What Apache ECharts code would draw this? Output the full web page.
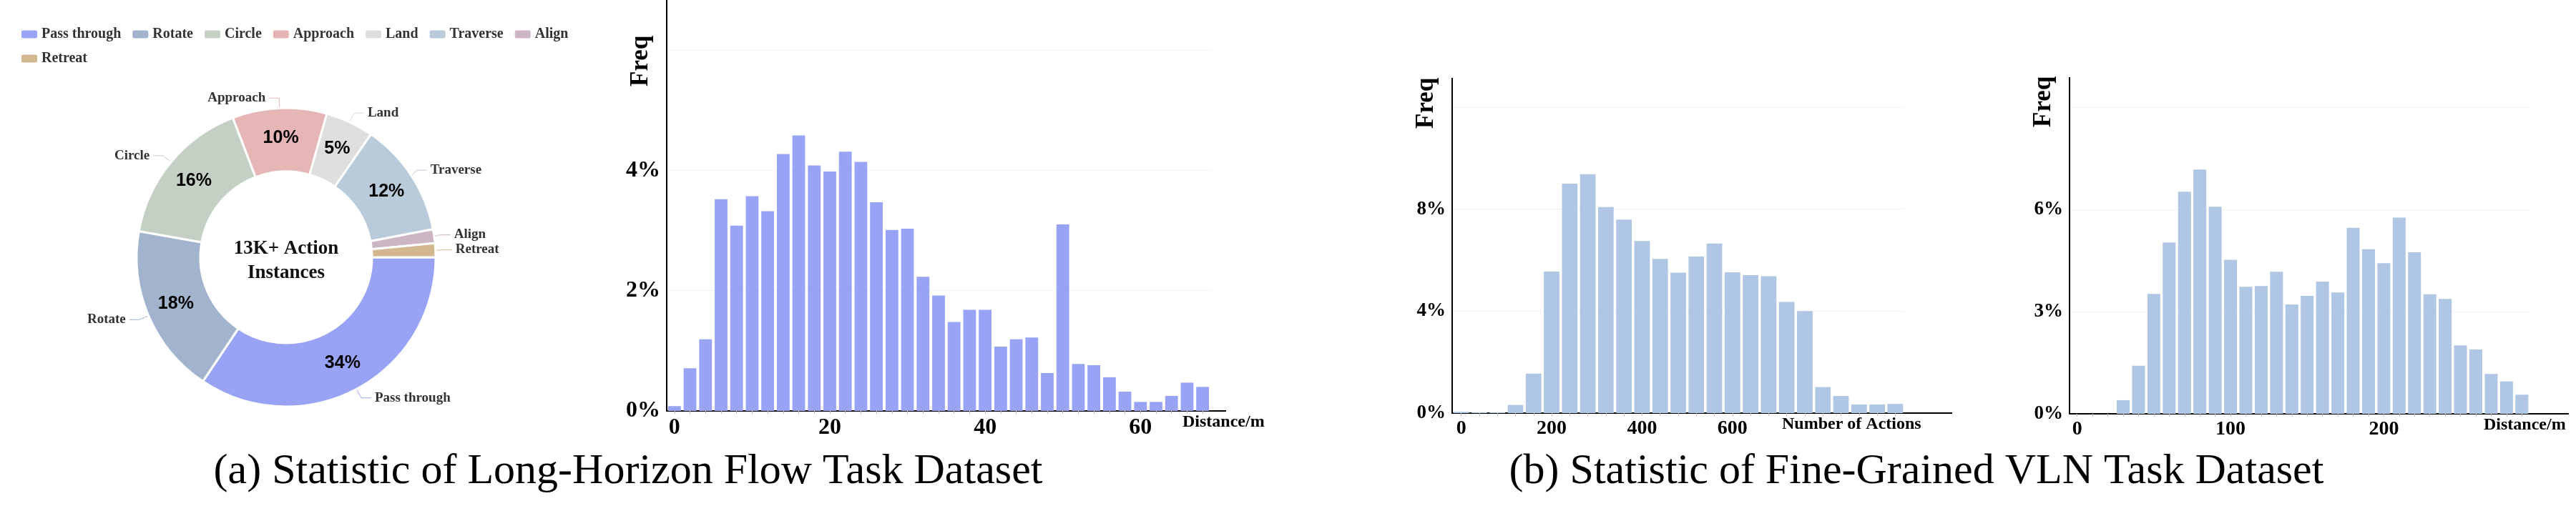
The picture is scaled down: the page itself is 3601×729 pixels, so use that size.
<!DOCTYPE html>
<html>
<head>
<meta charset="utf-8">
<script src="https://cdn.jsdelivr.net/npm/echarts@6/dist/echarts.min.js"></script>
<style>
html,body{margin:0;padding:0;background:#fff;}
#c{width:3601px;height:729px;}
</style>
</head>
<body>
<div id="c"></div>
<script>
// ---------------- data ----------------
const pieNames  = ['Pass through','Rotate','Circle','Approach','Land','Traverse','Align','Retreat'];
const pieValues = [34.4, 18.4, 16.4, 10.2, 5.2, 12.4, 1.5, 1.5];
const pieColors = ['#99A3F6','#A2B4CD','#C5D0C5','#E6B5B6','#DEDEDE','#B9CBDA','#CCB6C4','#D3B78F'];
const centerText = '13K+ Action\nInstances';

const hist1Cats = ['0','2','4','6','8','10','12','14','16','18','20','22','24','26','28','30','32','34',
                   '36','38','40','42','44','46','48','50','52','54','56','58','60','62','64','66','68'];
const hist1Vals = [0.08,0.71,1.19,3.52,3.08,3.57,3.32,4.27,4.58,4.08,3.98,4.31,4.14,3.47,3.01,3.03,2.23,1.92,
                   1.48,1.68,1.68,1.07,1.19,1.22,0.63,3.10,0.78,0.76,0.56,0.32,0.15,0.15,0.25,0.47,0.40];

const hist2Cats = ['0','40','80','120','160','200','240','280','320','360','400','440','480','520','560',
                   '600','640','680','720','760','800','840','880','920','960'];
const hist2Vals = [0.05,0.03,0.03,0.32,1.55,5.55,9.00,9.37,8.08,7.59,6.75,6.05,5.51,6.14,6.65,
                   5.52,5.41,5.37,4.36,4.00,1.02,0.67,0.34,0.34,0.36];

const hist3Cats = ['0','10','20','30','40','50','60','70','80','90','100','110','120','130','140',
                   '150','160','170','180','190','200','210','220','230','240','250','260','270','280','290'];
const hist3Vals = [0,0,0,0.40,1.41,3.52,5.03,6.52,7.17,6.08,4.52,3.73,3.75,4.17,3.21,
                   3.46,3.88,3.56,5.46,4.83,4.42,5.76,4.74,3.51,3.37,2.01,1.89,1.17,0.95,0.56];

const yName = 'Freq';
const xName1 = 'Distance/m';
const xName2 = 'Number of Actions';
const xName3 = 'Distance/m';
const captionA = '(a) Statistic of Long-Horizon Flow Task Dataset';
const captionB = '(b) Statistic of Fine-Grained VLN Task Dataset';

// ---------------- styles ----------------
const SERIF = "'Liberation Serif','Times New Roman',serif";
const SANS = "'Liberation Sans',Arial,sans-serif";

function xAxisCfg(grid, cats, showIdx, name, nameGap, ext, fs) {
  return {
    type: 'category', gridIndex: grid, data: cats, boundaryGap: true,
    axisLine: {show: true, lineStyle: {color: '#000', width: 2},
      symbol: ['none', 'rect'], symbolSize: [2, ext], symbolOffset: [0, ext / 2]},
    axisTick: {show: true, alignWithLabel: true, interval: 0, length: 4, lineStyle: {color: '#bbb'}},
    axisLabel: {interval: showIdx, margin: 8, fontFamily: SERIF, fontWeight: 'bold', fontSize: fs, color: '#000'},
    splitLine: {show: false},
    name: name, nameLocation: 'end', nameGap: nameGap, nameMoveOverlap: false,
    nameTextStyle: {fontFamily: SERIF, fontWeight: 'bold', fontSize: 24, color: '#000',
      align: 'left', verticalAlign: 'top', padding: [4, 0, 0, 0]}
  };
}
function yAxisCfg(grid, max, interval, nameGap, ext, fs) {
  return {
    type: 'value', gridIndex: grid, min: 0, max: max, interval: interval,
    axisLine: {show: true, lineStyle: {color: '#000', width: 2},
      symbol: ['none', 'rect'], symbolSize: [2, ext], symbolOffset: [0, ext / 2]},
    axisTick: {show: false},
    splitLine: {show: true, lineStyle: {color: '#f2f2f2', width: 1}},
    axisLabel: {formatter: v => v + '%', showMaxLabel: false, margin: 9,
      fontFamily: SERIF, fontWeight: 'bold', fontSize: fs, color: '#000'},
    name: yName, nameLocation: 'end', nameRotate: 90, nameGap: nameGap, nameMoveOverlap: false,
    nameTextStyle: {fontFamily: SERIF, fontWeight: 'bold', fontSize: 35, color: '#000',
      align: 'left', verticalAlign: 'bottom', padding: [0, 0, 19, 0]}
  };
}

const chart = echarts.init(document.getElementById('c'), null, {renderer: 'canvas'});
const option = {
  backgroundColor: '#fff',
  animation: false,
  title: [
    {text: centerText, left: 400, top: 331, textAlign: 'center', padding: 0,
     textStyle: {fontFamily: SERIF, fontWeight: 'bold', fontSize: 27, lineHeight: 34, color: '#111'}},
    {text: captionA, left: 878, top: 629, textAlign: 'center', padding: 0,
     textStyle: {fontFamily: SERIF, fontWeight: 'normal', fontSize: 60, lineHeight: 62, color: '#000'}},
    {text: captionB, left: 2679, top: 629, textAlign: 'center', padding: 0,
     textStyle: {fontFamily: SERIF, fontWeight: 'normal', fontSize: 60, lineHeight: 62, color: '#000'}}
  ],
  legend: {
    data: pieNames, left: 28, top: 38, width: 780, padding: 0,
    itemWidth: 24, itemHeight: 13, itemGap: 14, icon: 'roundRect',
    textStyle: {fontFamily: SERIF, fontWeight: 'bold', fontSize: 20, lineHeight: 15, color: '#333'}
  },
  grid: [
    {left: 932, top: 70, width: 760, height: 505, outerBoundsMode: 'none'},
    {left: 2030, top: 150, width: 632, height: 428, outerBoundsMode: 'none'},
    {left: 2893, top: 150, width: 643, height: 429, outerBoundsMode: 'none'}
  ],
  xAxis: [
    xAxisCfg(0, hist1Cats, i => i % 10 === 0, xName1, -39, 22, 32),
    xAxisCfg(1, hist2Cats, i => i % 5 === 0 && i <= 15, xName2, -171, 67, 28),
    xAxisCfg(2, hist3Cats, i => i % 10 === 0, xName3, -64, 55, 28)
  ],
  yAxis: [
    yAxisCfg(0, 6, 2, -51, 70, 32),
    yAxisCfg(1, 12, 4, -30, 41, 27),
    yAxisCfg(2, 9, 3, -28, 42, 27)
  ],
  series: [
    {
      type: 'pie', center: [400, 360], radius: [120, 209], startAngle: 0, clockwise: true,
      data: pieNames.map((n, i) => ({name: n, value: pieValues[i], itemStyle: {color: pieColors[i]}})),
      itemStyle: {borderColor: '#fff', borderWidth: 3},
      label: {show: true, position: 'outside', formatter: '{b}', fontFamily: SERIF, fontWeight: 'bold',
        fontSize: 19, color: '#333'},
      labelLine: {show: true, length: 14, length2: 14, lineStyle: {width: 1}},
      emphasis: {disabled: true}
    },
    {
      type: 'pie', center: [400, 360], radius: [120, 209], startAngle: 0, clockwise: true, silent: true,
      data: pieNames.map((n, i) => ({name: n, value: pieValues[i]})),
      itemStyle: {color: 'rgba(0,0,0,0)', borderWidth: 0},
      label: {show: true, position: 'inside',
        formatter: p => (p.value >= 3 ? Math.round(p.value) + '%' : ''),
        fontFamily: SANS, fontWeight: 'bold', fontSize: 25, color: '#000'},
      labelLine: {show: false},
      emphasis: {disabled: true}
    },
    {type: 'bar', xAxisIndex: 0, yAxisIndex: 0, data: hist1Vals, barCategoryGap: '18%',
     itemStyle: {color: '#99A3F6'}, silent: true},
    {type: 'bar', xAxisIndex: 1, yAxisIndex: 1, data: hist2Vals, barCategoryGap: '14%',
     itemStyle: {color: '#AFC6E4'}, silent: true},
    {type: 'bar', xAxisIndex: 2, yAxisIndex: 2, data: hist3Vals, barCategoryGap: '16%',
     itemStyle: {color: '#AFC6E4'}, silent: true}
  ]
};
chart.setOption(option);
</script>
</body>
</html>
